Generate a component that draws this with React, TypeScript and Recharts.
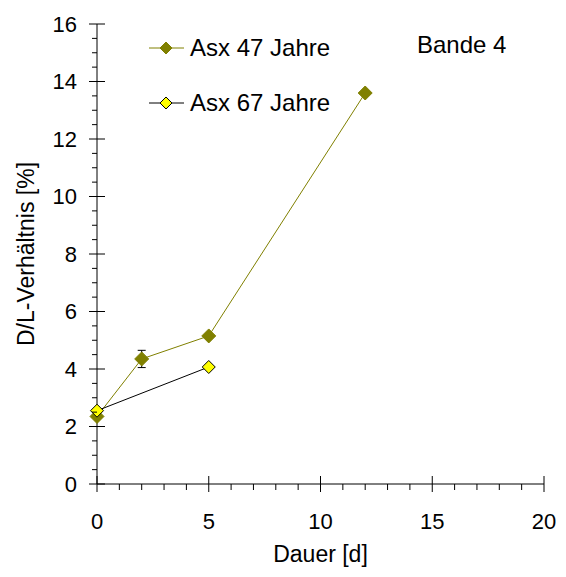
import { ComposedChart, Line, XAxis, YAxis, ErrorBar, Legend, Customized } from "recharts";

// Asx 47 Jahre
const days47 = [0, 2, 5, 12];
const values47 = [2.35, 4.35, 5.15, 13.6];
const errors47 = [0.05, 0.3, 0.05, 0.05];

// Asx 67 Jahre
const days67 = [0, 5];
const values67 = [2.55, 4.07];

const xTicks = Array.from({ length: 21 }, (_, i) => i);
const yTicks = Array.from({ length: 33 }, (_, i) => i * 0.5);

const data47 = days47.map((d, i) => ({ day: d, value: values47[i], err: errors47[i] }));
const data67 = days67.map((d, i) => ({ day: d, value: values67[i] }));

const FONT = "'Liberation Sans', Arial, sans-serif";
const OLIVE = "#808000";
const YELLOW = "#ffff00";

const Diamond = ({ cx, cy, r, fill, stroke }: any) => (
  <polygon
    points={`${cx},${cy - r} ${cx + r},${cy} ${cx},${cy + r} ${cx - r},${cy}`}
    fill={fill}
    stroke={stroke}
    strokeWidth={1}
  />
);

const XTick = ({ x, y, payload }: any) => {
  const v = payload.value;
  const major = v % 5 === 0;
  return (
    <g>
      <line x1={x} x2={x} y1={major ? y - 8 : y} y2={y + (major ? 8 : 6)} stroke="#000" />
      {major && (
        <text x={x} y={y + 37} textAnchor="middle" dominantBaseline="central" fontSize={22} fontFamily={FONT} fill="#000">
          {v}
        </text>
      )}
    </g>
  );
};

const YTick = ({ x, y, payload }: any) => {
  const v = payload.value;
  const major = v % 2 === 0;
  return (
    <g>
      <line x1={x - (major ? 8 : 5)} x2={major ? x + 8 : x} y1={y} y2={y} stroke="#000" />
      {major && (
        <text x={x - 20} y={y} textAnchor="end" dominantBaseline="central" fontSize={22} fontFamily={FONT} fill="#000">
          {v}
        </text>
      )}
    </g>
  );
};

const legendStyles = [
  { line: OLIVE, fill: OLIVE, stroke: OLIVE },
  { line: "#000", fill: YELLOW, stroke: "#000" }
];

const renderLegend = ({ payload }: any) => (
  <div style={{ fontFamily: FONT, fontSize: 24 }}>
    {(payload || []).map((item: any, i: number) => {
      const s = legendStyles[i] || legendStyles[0];
      return (
        <div key={item.value} style={{ display: "flex", alignItems: "center", height: 28, marginBottom: i === 0 ? 27 : 0 }}>
          <svg width={35} height={16} style={{ marginRight: 6 }}>
            <line x1={0} x2={35} y1={8} y2={8} stroke={s.line} />
            <Diamond cx={17} cy={8} r={6} fill={s.fill} stroke={s.stroke} />
          </svg>
          <span>{item.value}</span>
        </div>
      );
    })}
  </div>
);

export default function App() {
  return (
    <div style={{ margin: -8 }}>
      <ComposedChart width={566} height={577} margin={{ top: 24, right: 22, bottom: 43, left: 0 }}>
        <XAxis
          type="number"
          dataKey="day"
          domain={[0, 20]}
          ticks={xTicks}
          interval={0}
          tickSize={0}
          tickMargin={0}
          tick={<XTick />}
          height={50}
          stroke="#000"
          allowDuplicatedCategory={false}
          label={{ value: "Dauer [d]", position: "bottom", offset: 12, style: { fontSize: 23, fontFamily: FONT, fill: "#000" } }}
        />
        <YAxis
          type="number"
          domain={[0, 16]}
          ticks={yTicks}
          interval={0}
          tickSize={0}
          tickMargin={0}
          tick={<YTick />}
          width={97}
          stroke="#000"
          label={{
            value: "D/L-Verhältnis [%]",
            angle: -90,
            position: "insideLeft",
            offset: 26,
            style: { fontSize: 23, fontFamily: FONT, fill: "#000", textAnchor: "middle" }
          }}
        />
        <Legend
          layout="vertical"
          align="center"
          verticalAlign="middle"
          content={renderLegend}
          wrapperStyle={{ top: 34, left: 149, width: "auto" }}
        />
        <Line
          data={data47}
          dataKey="value"
          name="Asx 47 Jahre"
          stroke={OLIVE}
          strokeWidth={1}
          isAnimationActive={false}
          dot={(p: any) => <Diamond key={p.index} cx={p.cx} cy={p.cy} r={7} fill={OLIVE} stroke={OLIVE} />}
        >
          <ErrorBar dataKey="err" width={4} stroke="#000" strokeWidth={1} direction="y" />
        </Line>
        <Line
          data={data67}
          dataKey="value"
          name="Asx 67 Jahre"
          stroke="#000"
          strokeWidth={1}
          isAnimationActive={false}
          dot={(p: any) => <Diamond key={p.index} cx={p.cx} cy={p.cy} r={6.5} fill={YELLOW} stroke="#000" />}
        />
        <Customized
          component={() => (
            <text x={417} y={53} fontSize={24} fontFamily={FONT} fill="#000">
              Bande 4
            </text>
          )}
        />
      </ComposedChart>
    </div>
  );
}
